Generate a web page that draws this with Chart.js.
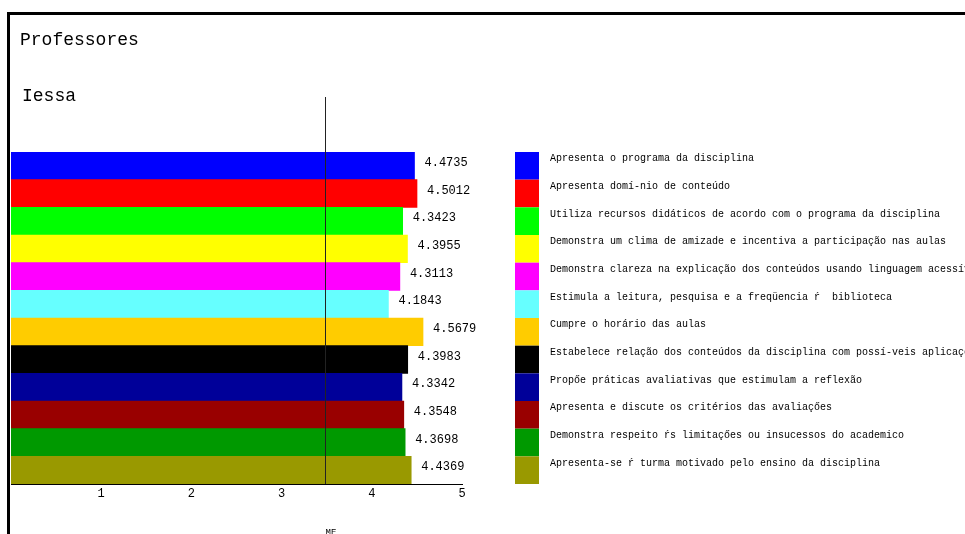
<!DOCTYPE html>
<html>
<head>
<meta charset="utf-8">
<script src="https://cdn.jsdelivr.net/npm/chart.js@4"></script>
<style>
  html, body { margin: 0; padding: 0; background: #fff; }
  #box { width: 965px; height: 534px; position: relative; }
</style>
</head>
<body>
<div id="box"><canvas id="chart"></canvas></div>
<script>
// data
const questions = [
  'Apresenta o programa da disciplina',
  'Apresenta domí-nio de conteúdo',
  'Utiliza recursos didáticos de acordo com o programa da disciplina',
  'Demonstra um clima de amizade e incentiva a participação nas aulas',
  'Demonstra clareza na explicação dos conteúdos usando linguagem acessível',
  'Estimula a leitura, pesquisa e a freqüencia ŕ  biblioteca',
  'Cumpre o horário das aulas',
  'Estabelece relação dos conteúdos da disciplina com possí-veis aplicações',
  'Propőe práticas avaliativas que estimulam a reflexão',
  'Apresenta e discute os critérios das avaliaçőes',
  'Demonstra respeito ŕs limitaçőes ou insucessos do academico',
  'Apresenta-se ŕ turma motivado pelo ensino da disciplina'
];
const scores = [4.4735, 4.5012, 4.3423, 4.3955, 4.3113, 4.1843, 4.5679, 4.3983, 4.3342, 4.3548, 4.3698, 4.4369];
const barColors = ['#0000ff', '#ff0000', '#00ff00', '#ffff00', '#ff00ff', '#66ffff',
                   '#ffcc00', '#000000', '#000099', '#990000', '#009900', '#999900'];
const xTicks = [1, 2, 3, 4, 5];
const meanValue = 3.48;
const chartTitle = 'Professores';
const subTitle = 'Iessa';
const axisTitle = 'ME';

const mono = '"Liberation Mono", "DejaVu Sans Mono", monospace';

// draws frame, titles, the mean line, value labels and the legend on the side
const extras = {
  id: 'extras',
  afterDraw(chart) {
    const ctx = chart.ctx;
    const xs = chart.scales.x;
    const ys = chart.scales.y;
    const meta = chart.getDatasetMeta(0);
    ctx.save();

    // frame
    ctx.fillStyle = '#000';
    ctx.fillRect(7, 12, 958, 3);
    ctx.fillRect(7, 12, 3, 522);

    ctx.textAlign = 'left';
    ctx.textBaseline = 'middle';
    ctx.font = '18px ' + mono;
    ctx.fillText(chartTitle, 20, 40);
    ctx.fillText(subTitle, 22, 96);

    // mean line
    const mx = Math.round(xs.getPixelForValue(meanValue)) + 0.5;
    ctx.strokeStyle = '#222';
    ctx.lineWidth = 1;
    ctx.beginPath();
    ctx.moveTo(mx, 97);
    ctx.lineTo(mx, xs.top);
    ctx.stroke();

    // values at bar ends
    ctx.font = '12px ' + mono;
    meta.data.forEach((bar, i) => {
      ctx.fillText(scores[i].toFixed(4), bar.x + 10, bar.y - 3);
    });

    // legend
    ctx.font = '10px ' + mono;
    questions.forEach((q, i) => {
      const bar = meta.data[i];
      const top = bar.y - bar.height / 2;
      ctx.fillStyle = barColors[i];
      ctx.fillRect(515, top, 24, bar.height);
      ctx.fillStyle = '#000';
      ctx.fillText(q, 550, bar.y - 7);
    });

    // axis title, cut by the page bottom
    ctx.font = '9px ' + mono;
    ctx.textAlign = 'center';
    ctx.textBaseline = 'top';
    ctx.fillText(axisTitle, 331, 528);
    ctx.restore();
  }
};

new Chart(document.getElementById('chart'), {
  type: 'bar',
  data: {
    labels: questions,
    datasets: [{
      data: scores,
      backgroundColor: barColors,
      borderWidth: 0,
      categoryPercentage: 1,
      barPercentage: 1
    }]
  },
  options: {
    indexAxis: 'y',
    responsive: true,
    maintainAspectRatio: false,
    animation: false,
    events: [],
    layout: { padding: { left: 11, top: 152, right: 503, bottom: 0 } },
    plugins: { legend: { display: false }, tooltip: { enabled: false } },
    scales: {
      x: {
        min: 0,
        max: 5,
        afterBuildTicks: s => { s.ticks = [0].concat(xTicks).map(v => ({ value: v })); },
        afterFit: s => { s.height = 50; },
        grid: { display: false, drawTicks: false },
        border: { display: true, color: '#000', width: 1 },
        ticks: {
          padding: 3,
          color: '#000',
          font: { family: mono, size: 12 },
          maxRotation: 0,
          callback: v => v === 0 ? '' : v
        }
      },
      y: { display: false }
    }
  },
  plugins: [extras]
});
</script>
</body>
</html>
